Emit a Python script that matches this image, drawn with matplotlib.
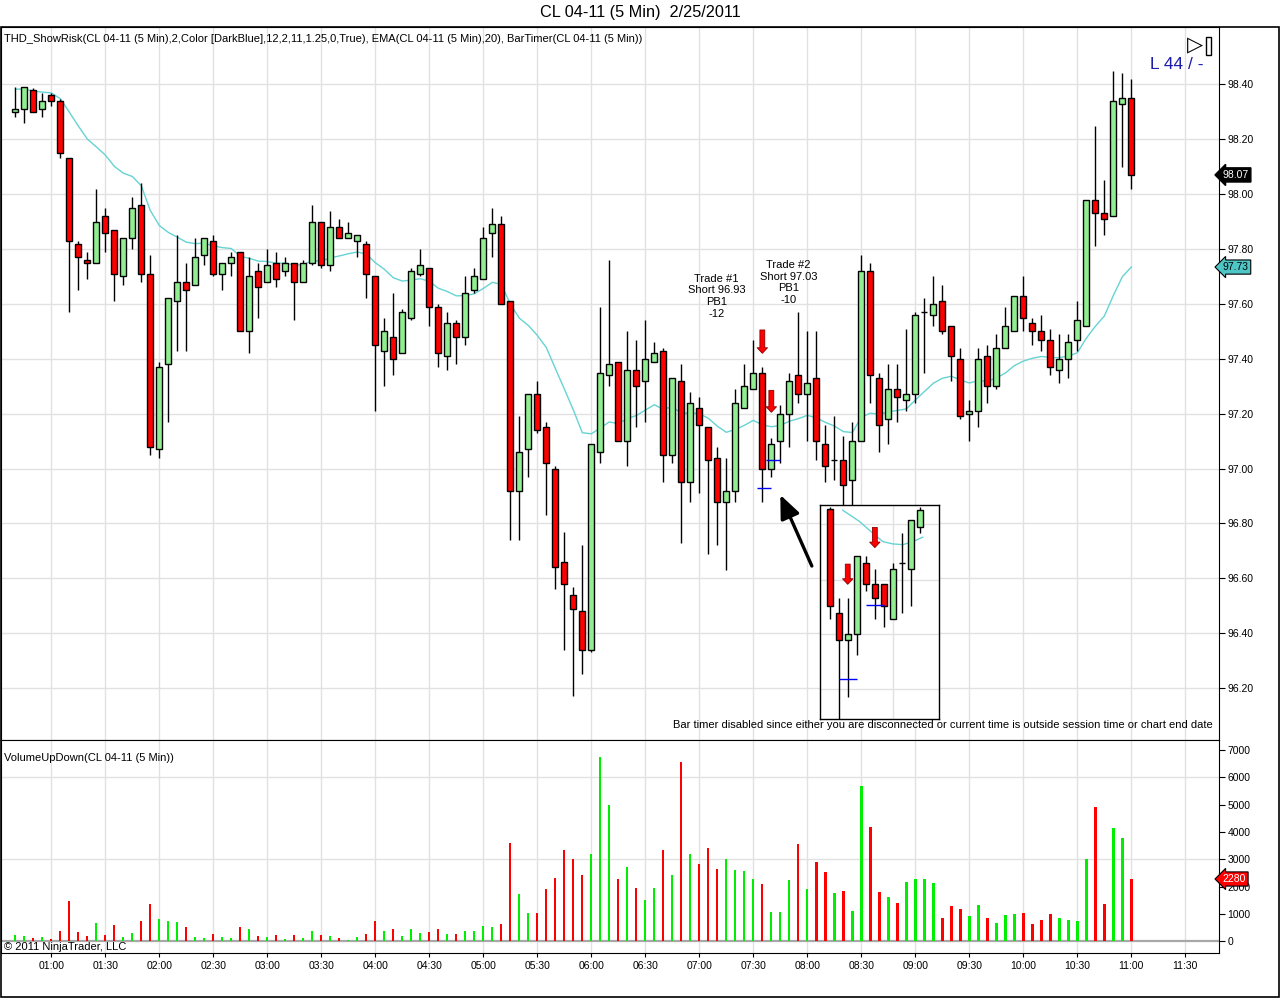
import numpy as np
import matplotlib
matplotlib.use("Agg")
import matplotlib.pyplot as plt
from matplotlib.patches import Rectangle
import matplotlib.transforms as mtransforms

plt.rcParams['font.family'] = ['Liberation Sans', 'DejaVu Sans']

# 5 min bars of CL 04-11, first bar 00:40, last bar 11:00
opens = [98.30, 98.31, 98.38, 98.31, 98.36, 98.34, 98.13, 97.82, 97.76, 97.75,
         97.92, 97.87, 97.70, 97.84, 97.96, 97.71, 97.07, 97.38, 97.61, 97.68,
         97.67, 97.78, 97.83, 97.71, 97.75, 97.79, 97.50, 97.72, 97.68, 97.75,
         97.72, 97.75, 97.68, 97.75, 97.90, 97.74, 97.88, 97.84, 97.83, 97.82,
         97.70, 97.43, 97.48, 97.42, 97.55, 97.71, 97.73, 97.59, 97.41, 97.53,
         97.48, 97.65, 97.69, 97.86, 97.89, 97.61, 96.92, 97.07, 97.27, 97.15,
         97.00, 96.66, 96.54, 96.48, 96.34, 97.06, 97.34, 97.39, 97.10, 97.36,
         97.32, 97.39, 97.43, 97.05, 97.32, 96.95, 97.22, 97.15, 97.04, 96.88,
         96.92, 97.22, 97.29, 97.35, 97.00, 97.10, 97.20, 97.34, 97.27, 97.33,
         97.09, 97.03, 97.03, 96.96, 97.10, 97.72, 97.33, 97.18, 97.29, 97.25,
         97.27, 97.57, 97.56, 97.61, 97.52, 97.40, 97.20, 97.21, 97.41, 97.30,
         97.44, 97.50, 97.63, 97.53, 97.50, 97.47, 97.36, 97.40, 97.47, 97.52,
         97.98, 97.93, 97.92, 98.33, 98.35]
highs = [98.39, 98.39, 98.385, 98.37, 98.37, 98.345, 98.13, 97.83, 97.79, 98.02,
         97.95, 97.87, 97.84, 97.99, 98.04, 97.78, 97.39, 97.62, 97.85, 97.75,
         97.84, 97.84, 97.85, 97.75, 97.79, 97.79, 97.77, 97.75, 97.80, 97.79,
         97.77, 97.75, 97.76, 97.96, 97.90, 97.94, 97.91, 97.90, 97.85, 97.83,
         97.70, 97.55, 97.64, 97.58, 97.73, 97.80, 97.73, 97.60, 97.57, 97.54,
         97.70, 97.73, 97.88, 97.95, 97.92, 97.61, 97.19, 97.27, 97.32, 97.17,
         97.01, 96.77, 96.57, 96.72, 97.09, 97.59, 97.76, 97.39, 97.50, 97.47,
         97.54, 97.46, 97.44, 97.33, 97.38, 97.28, 97.26, 97.15, 97.08, 97.04,
         97.29, 97.38, 97.47, 97.37, 97.11, 97.23, 97.35, 97.57, 97.50, 97.50,
         97.16, 97.19, 97.12, 97.17, 97.78, 97.75, 97.35, 97.38, 97.38, 97.51,
         97.57, 97.62, 97.70, 97.67, 97.52, 97.44, 97.25, 97.44, 97.45, 97.49,
         97.59, 97.63, 97.70, 97.55, 97.56, 97.51, 97.49, 97.49, 97.61, 97.98,
         98.25, 98.05, 98.45, 98.44, 98.42]
lows = [98.28, 98.26, 98.30, 98.28, 98.32, 98.13, 97.57, 97.65, 97.69, 97.75,
        97.79, 97.61, 97.67, 97.80, 97.68, 97.05, 97.04, 97.17, 97.43, 97.43,
        97.67, 97.74, 97.70, 97.65, 97.70, 97.50, 97.42, 97.55, 97.68, 97.66,
        97.70, 97.54, 97.68, 97.74, 97.73, 97.72, 97.84, 97.84, 97.77, 97.62,
        97.21, 97.30, 97.34, 97.42, 97.54, 97.70, 97.52, 97.37, 97.36, 97.38,
        97.45, 97.64, 97.69, 97.77, 97.60, 96.74, 96.74, 96.97, 97.13, 96.83,
        96.56, 96.34, 96.17, 96.25, 96.33, 97.02, 97.30, 97.10, 97.01, 97.15,
        97.17, 97.39, 96.95, 97.02, 96.73, 96.88, 96.91, 96.69, 96.72, 96.63,
        96.88, 97.22, 97.29, 96.88, 96.97, 97.02, 97.08, 97.24, 97.10, 97.03,
        96.95, 96.96, 96.86, 96.86, 97.10, 97.24, 97.06, 97.09, 97.17, 97.21,
        97.24, 97.35, 97.52, 97.49, 97.32, 97.18, 97.10, 97.15, 97.24, 97.29,
        97.44, 97.50, 97.50, 97.45, 97.43, 97.34, 97.31, 97.33, 97.43, 97.52,
        97.81, 97.85, 97.92, 98.10, 98.02]
closes = [98.31, 98.39, 98.30, 98.34, 98.34, 98.15, 97.83, 97.77, 97.75, 97.90,
          97.86, 97.71, 97.84, 97.95, 97.71, 97.08, 97.37, 97.62, 97.68, 97.65,
          97.77, 97.84, 97.71, 97.75, 97.77, 97.50, 97.70, 97.66, 97.74, 97.69,
          97.75, 97.68, 97.75, 97.90, 97.74, 97.88, 97.84, 97.86, 97.85, 97.71,
          97.45, 97.50, 97.40, 97.57, 97.72, 97.74, 97.59, 97.42, 97.53, 97.48,
          97.64, 97.70, 97.84, 97.89, 97.60, 96.92, 97.06, 97.27, 97.14, 97.02,
          96.64, 96.58, 96.49, 96.34, 97.09, 97.35, 97.38, 97.10, 97.36, 97.30,
          97.40, 97.42, 97.05, 97.33, 96.95, 97.24, 97.16, 97.03, 96.88, 96.92,
          97.24, 97.30, 97.35, 97.00, 97.09, 97.20, 97.32, 97.27, 97.31, 97.10,
          97.01, 97.03, 96.94, 97.10, 97.72, 97.34, 97.16, 97.29, 97.26, 97.27,
          97.56, 97.57, 97.60, 97.50, 97.41, 97.19, 97.21, 97.40, 97.30, 97.44,
          97.52, 97.63, 97.55, 97.50, 97.47, 97.37, 97.40, 97.46, 97.54, 97.98,
          97.93, 97.91, 98.34, 98.35, 98.07]
volumes = [230, 195, 120, 160, 85, 380, 1475, 340, 195, 670,
           230, 600, 160, 305, 745, 1365, 815, 745, 710, 525,
           160, 120, 270, 160, 120, 525, 450, 195, 160, 230,
           85, 230, 120, 380, 230, 195, 120, 50, 160, 270,
           745, 380, 450, 195, 450, 305, 340, 450, 270, 270,
           380, 380, 560, 525, 635, 3600, 1730, 1035, 1035, 1915,
           2315, 3340, 3010, 2425, 3195, 6745, 4990, 2280, 2720, 1950,
           1510, 1950, 3340, 2425, 6560, 3195, 2830, 3415, 2645, 3010,
           2610, 2575, 2280, 2100, 1075, 1075, 2245, 3560, 1915, 2900,
           2535, 1770, 1840, 1110, 5680, 4180, 1805, 1620, 1400, 2170,
           2280, 2280, 2135, 855, 1290, 1180, 925, 1330, 855, 670,
           965, 1000, 1035, 635, 780, 1000, 855, 780, 745, 3010,
           4915, 1365, 4145, 3780, 2280]
ema_seed = 98.39
ema_period = 20

time_labels = ['01:00', '01:30', '02:00', '02:30', '03:00', '03:30', '04:00', '04:30',
               '05:00', '05:30', '06:00', '06:30', '07:00', '07:30', '08:00', '08:30',
               '09:00', '09:30', '10:00', '10:30', '11:00', '11:30']
first_bar_minutes = 40
bar_minutes = 5

price_ticks = [96.2, 96.4, 96.6, 96.8, 97.0, 97.2, 97.4, 97.6, 97.8, 98.0, 98.2, 98.4]
volume_ticks = [0, 1000, 2000, 3000, 4000, 5000, 6000, 7000]

# trade markers (bar, entry, label, label x, label top, arrow top, arrow tip)
trades = [(83, 96.93, 'Trade #1\nShort 96.93\nPB1\n-12', 77.9, 97.71, 97.505, 97.42),
          (84, 97.03, 'Trade #2\nShort 97.03\nPB1\n-10', 85.9, 97.76, 97.285, 97.205)]

# zoomed inset (pasted chart of the entries)
inset_open = [97.157, 97.019, 96.982, 96.991, 97.086, 97.058, 97.058, 97.010, 97.086, 97.077, 97.134]
inset_high = [97.160, 97.039, 97.039, 97.095, 97.095, 97.077, 97.058, 97.086, 97.125, 97.143, 97.160]
inset_low = [97.010, 96.870, 96.906, 96.962, 97.048, 97.010, 97.000, 97.010, 97.019, 97.028, 97.125]
inset_close = [97.028, 96.982, 96.991, 97.095, 97.058, 97.039, 97.028, 97.077, 97.086, 97.143, 97.156]
inset_ema_x = [1.44, 2.2, 3.3, 4.8, 5.9, 7.0, 8.1, 9.2, 10.3]
inset_ema_y = [97.156, 97.150, 97.141, 97.125, 97.114, 97.111, 97.110, 97.114, 97.120]
inset_entries = [(1, 3, 96.930), (4, 6, 97.030)]
inset_arrows = [(2, 97.084, 97.057), (5, 97.133, 97.106)]
inset_grid_y = [96.917, 96.990, 97.063, 97.137]

UP = '#90ee90'
DOWN = '#ff0000'
EMA_C = '#66d3d3'
GRID = '#e1e1e1'
FS = 8

W, H = 1280, 999
fig = plt.figure(figsize=(W / 100, H / 100), dpi=100)


def fx(px):
    return px / W


def fy(py):
    return 1 - py / H


def candles(a, x, o, h, l, c, width=0.66):
    o, h, l, c = map(np.asarray, (o, h, l, c))
    up = c >= o
    a.vlines(x, l, h, color='black', lw=1, zorder=2)
    a.bar(x, np.abs(c - o), width, bottom=np.minimum(o, c),
          color=np.where(up, UP, DOWN), edgecolor='black', linewidth=1, zorder=3)


def down_arrow(a, x, y0, y1):
    a.annotate('', xy=(x, y1), xytext=(x, y0),
               arrowprops=dict(arrowstyle='simple,head_length=0.4,head_width=0.75,tail_width=0.35',
                               fc='#ff0000', ec='#8b0000', lw=0.6, shrinkA=0, shrinkB=0),
               zorder=6)


n = len(closes)
x = np.arange(n)
o = np.array(opens)
c = np.array(closes)
up = c >= o

ema = []
prev = ema_seed
k = 2 / (ema_period + 1)
for v in closes:
    prev = prev + k * (v - prev)
    ema.append(prev)

tick_pos = [((60 + 30 * i) - first_bar_minutes) / bar_minutes for i in range(len(time_labels))]
xlim = (-1.59, 133.74)

# ---- price panel
ax = fig.add_axes([fx(1), fy(740), fx(1219) - fx(1), fy(27) - fy(740)])
ax.set_xlim(*xlim)
ax.set_ylim(96.011, 98.609)
ax.set_axisbelow(True)
ax.set_xticks(tick_pos)
ax.set_yticks(price_ticks)
ax.set_yticklabels(['%.2f' % p for p in price_ticks])
ax.grid(True, color=GRID, lw=1)
ax.yaxis.tick_right()
ax.tick_params(axis='x', bottom=False, labelbottom=False)
ax.tick_params(axis='y', right=True, length=4, labelsize=7.5, pad=2)
for s in ax.spines.values():
    s.set_color('black')

ax.plot(x, ema, color=EMA_C, lw=1, zorder=1.5)
candles(ax, x, opens, highs, lows, closes)

for bar, entry, txt, tx, ty, a0, a1 in trades:
    down_arrow(ax, bar, a0, a1)
    ax.hlines(entry, bar - 0.55, bar + 1.0, color='#0000ff', lw=1, zorder=5)
    ax.text(tx, ty, txt, ha='center', va='top', fontsize=FS, linespacing=1.2)

ax.annotate('', xy=(85.0, 96.904), xytext=(88.5, 96.645),
            arrowprops=dict(arrowstyle='-|>,head_length=0.7,head_width=0.3',
                            color='black', lw=2.4, mutation_scale=20, shrinkA=0, shrinkB=0),
            zorder=6)

ax.text(0.0025, 0.983, 'THD_ShowRisk(CL 04-11 (5 Min),2,Color [DarkBlue],12,2,11,1.25,0,True), '
        'EMA(CL 04-11 (5 Min),20), BarTimer(CL 04-11 (5 Min))',
        transform=ax.transAxes, fontsize=FS, va='center', ha='left')
ax.text(0.995, 0.021, 'Bar timer disabled since either you are disconnected or current time '
        'is outside session time or chart end date',
        transform=ax.transAxes, fontsize=FS, va='center', ha='right')
ax.text(0.943, 0.948, 'L 44 / -', transform=ax.transAxes, fontsize=12.5,
        color='#1c1caa', va='center', ha='left')

tr = mtransforms.blended_transform_factory(ax.transAxes, ax.transData)
ax.text(1.003, closes[-1], '%.2f' % closes[-1], transform=tr, fontsize=7.5, color='white',
        va='center', ha='left', clip_on=False,
        bbox=dict(boxstyle='larrow,pad=0.2', fc='black', ec='black'))
ax.text(1.003, ema[-1], '%.2f' % ema[-1], transform=tr, fontsize=7.5, color='black',
        va='center', ha='left', clip_on=False,
        bbox=dict(boxstyle='larrow,pad=0.2', fc='#4fc6c6', ec='black', lw=0.8))

# ---- volume panel
axv = fig.add_axes([fx(1), fy(953), fx(1219) - fx(1), fy(740) - fy(953)])
axv.set_xlim(*xlim)
axv.set_ylim(-428, 7366)
axv.set_axisbelow(True)
axv.set_xticks(tick_pos)
axv.set_xticklabels(time_labels)
axv.grid(True, axis='x', color=GRID, lw=1)
for g in (3000, 6000):
    axv.axhline(g, color=GRID, lw=1, zorder=0)
axv.axhline(0, color='#a8a8a8', lw=1.6, zorder=1)
axv.bar(x, volumes, 0.26, color=np.where(up, '#00ee00', '#ff0000'), zorder=2)
axv.yaxis.tick_right()
axv.set_yticks(volume_ticks)
axv.set_yticklabels([str(v) for v in volume_ticks])
axv.tick_params(axis='y', right=True, length=4, labelsize=7.5, pad=2)
axv.tick_params(axis='x', length=3, labelsize=7.5, pad=3)
for s in axv.spines.values():
    s.set_color('black')
axv.text(0.0025, 0.915, 'VolumeUpDown(CL 04-11 (5 Min))', transform=axv.transAxes,
         fontsize=FS, va='center', ha='left')
axv.text(0.0025, 0.03, '\u00a9 2011 NinjaTrader, LLC', transform=axv.transAxes,
         fontsize=FS, va='center', ha='left')
trv = mtransforms.blended_transform_factory(axv.transAxes, axv.transData)
axv.text(1.003, volumes[-1], str(volumes[-1]), transform=trv, fontsize=7.5, color='white',
         va='center', ha='left', clip_on=False,
         bbox=dict(boxstyle='larrow,pad=0.2', fc='#ff0000', ec='black', lw=0.8))

# ---- inset with the two entries
axi = fig.add_axes([fx(820), fy(719), fx(939) - fx(820), fy(505) - fy(719)])
axi.set_zorder(5)
axi.set_facecolor('white')
axi.set_xlim(-1.07, 12.1)
axi.set_ylim(96.877, 97.163)
for gy in inset_grid_y:
    axi.axhline(gy, color=GRID, lw=1, zorder=0)
axi.axvline(7, color=GRID, lw=1, zorder=0)
ix = np.arange(len(inset_close))
axi.plot(inset_ema_x, inset_ema_y, color=EMA_C, lw=1, zorder=1.5)
candles(axi, ix, inset_open, inset_high, inset_low, inset_close)
for x0, x1, yv in inset_entries:
    axi.hlines(yv, x0, x1, color='#0000ff', lw=1, zorder=5)
for bx, y0, y1 in inset_arrows:
    down_arrow(axi, bx, y0, y1)
axi.set_xticks([])
axi.set_yticks([])
for s in axi.spines.values():
    s.set_color('black')
    s.set_linewidth(1)

# ---- frame, title, bar timer glyph
fig.add_artist(Rectangle((fx(1), fy(997)), fx(1279) - fx(1), fy(27) - fy(997),
                         transform=fig.transFigure, fill=False, ec='black', lw=1.2))
fig.text(0.5, fy(13), 'CL 04-11 (5 Min)  2/25/2011', ha='center', va='center', fontsize=11.7)
fig.text(fx(1187), fy(45), '\u25b7', ha='left', va='center', fontsize=15, family='DejaVu Sans')
fig.add_artist(Rectangle((fx(1206), fy(55)), fx(5), fy(37) - fy(55),
                         transform=fig.transFigure, fill=False, ec='black', lw=1))

fig.savefig('out.png', dpi=100)
